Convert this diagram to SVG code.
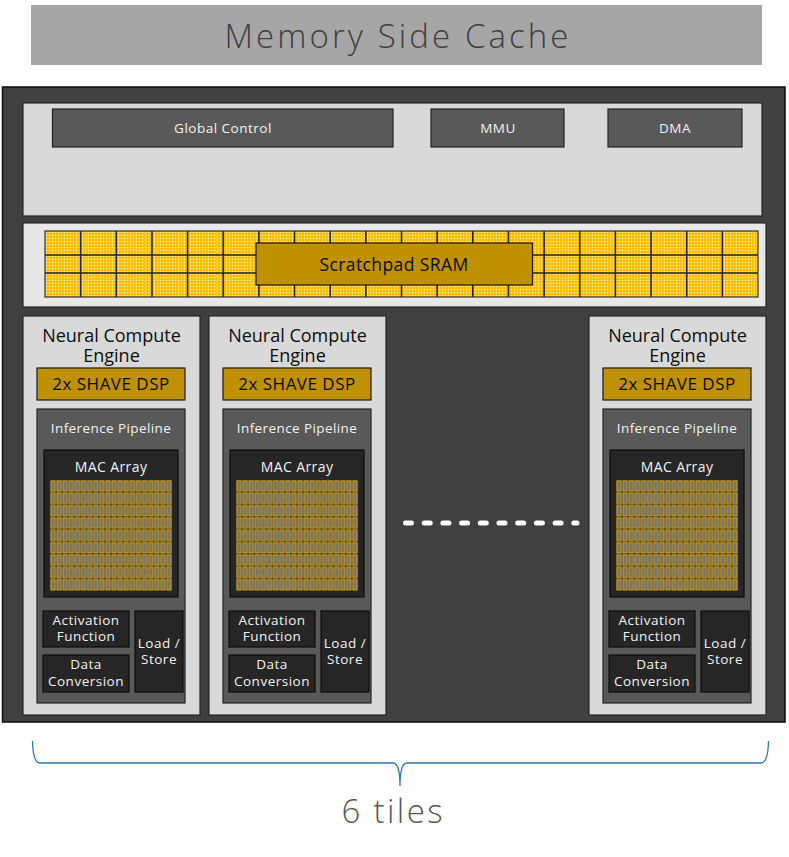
<svg xmlns="http://www.w3.org/2000/svg" width="789" height="857" viewBox="0 0 789 857">
<style>
.t{font-family:"Open Sans","Noto Sans","Liberation Sans",sans-serif;text-anchor:middle}
.big{font-weight:300;font-size:33px}
.sm{font-size:13.5px;letter-spacing:0.5px}
.lt{fill:#F2F2F2}
.dk{fill:#0D0D0D}
.panel{fill:#D9D9D9;stroke:#262626;stroke-width:1.2}
.dbox{fill:#595959;stroke:#262626;stroke-width:1.2}
.blk{fill:#262626;stroke:#0D0D0D;stroke-width:1.2}
.gold{fill:#BF9000;stroke:#1A1A1A;stroke-width:1.2}
</style>
<defs>
<pattern id="dots" width="3" height="3" patternUnits="userSpaceOnUse">
<rect width="3" height="3" fill="#FFC000"/>
<circle cx="1.5" cy="1.5" r="0.7" fill="#FFF2CC"/>
</pattern>
<pattern id="mac" patternUnits="objectBoundingBox" width="0.05" height="0.111111">
<rect x="0.8" y="0.8" width="4.5" height="10.6" fill="#767676" stroke="#D6A40F" stroke-width="1"/>
</pattern>
<g id="tile">
<rect class="panel" x="0" y="0" width="177" height="399"/>
<text class="t dk" x="88.5" y="25.5" font-size="18">Neural Compute</text>
<text class="t dk" x="88.5" y="45.5" font-size="18">Engine</text>
<rect class="gold" x="14" y="52" width="148" height="32"/>
<text class="t dk" x="88" y="74" font-size="17" letter-spacing="0.5">2x SHAVE DSP</text>
<rect class="dbox" x="14" y="93" width="148" height="294"/>
<text class="t lt" x="88" y="116.5" font-size="13.5" letter-spacing="0.4">Inference Pipeline</text>
<rect class="blk" x="21" y="134" width="134" height="147"/>
<text class="t lt" x="88" y="156" font-size="14" letter-spacing="0.4">MAC Array</text>
<rect x="27" y="164" width="122" height="111" fill="#111"/>
<rect x="27" y="164" width="122" height="111" fill="url(#mac)"/>
<rect class="blk" x="20" y="295" width="86" height="36"/>
<text class="t lt sm" x="63" y="309">Activation</text>
<text class="t lt sm" x="63" y="325">Function</text>
<rect class="blk" x="20" y="339" width="86" height="37"/>
<text class="t lt sm" x="63" y="353">Data</text>
<text class="t lt sm" x="63" y="370">Conversion</text>
<rect class="blk" x="112" y="295" width="48" height="81"/>
<text class="t lt sm" x="136" y="331.5">Load /</text>
<text class="t lt sm" x="136" y="348">Store</text>
</g>
</defs>

<g id="memory-side-cache">
<rect x="31" y="5" width="731" height="60" fill="#A6A6A6"/>
<text class="t big" x="396.5" y="48" fill="#404040" textLength="344" lengthAdjust="spacing">Memory Side Cache</text>
</g>

<g id="chip">
<rect x="2.5" y="87" width="782.5" height="635" fill="#404040" stroke="#0D0D0D" stroke-width="1.5"/>
</g>

<g id="top-panel">
<rect class="panel" x="23" y="103" width="739" height="113"/>
</g>
<g id="global-control">
<rect class="dbox" x="52.5" y="109" width="340.5" height="38"/>
<text class="t lt sm" x="223" y="133" letter-spacing="0.9">Global Control</text>
</g>
<g id="mmu">
<rect class="dbox" x="431" y="109" width="133" height="38"/>
<text class="t lt sm" x="498" y="133" letter-spacing="0.9">MMU</text>
</g>
<g id="dma">
<rect class="dbox" x="608" y="109" width="134" height="38"/>
<text class="t lt sm" x="675" y="133" letter-spacing="0.9">DMA</text>
</g>

<g id="sram">
<rect x="23" y="223" width="743" height="84" fill="#E8E8E8" stroke="#262626" stroke-width="1.2"/>
<rect x="45" y="231" width="713" height="66" fill="url(#dots)" stroke="#333" stroke-width="1.2"/>
<path d="M45,255H758M45,273H758M80.65,231V297M116.3,231V297M151.95,231V297M187.6,231V297M223.25,231V297M258.9,231V297M294.55,231V297M330.2,231V297M365.85,231V297M401.5,231V297M437.15,231V297M472.8,231V297M508.45,231V297M544.1,231V297M579.75,231V297M615.4,231V297M651.05,231V297M686.7,231V297M722.35,231V297" stroke="#262626" stroke-width="1.6" fill="none"/>
</g>
<g id="scratchpad-sram">
<rect class="gold" x="256" y="243" width="276.5" height="42"/>
<text class="t dk" x="394" y="271" font-size="17.5" letter-spacing="0.4">Scratchpad SRAM</text>
</g>

<g id="tile1"><use href="#tile" x="23" y="316"/></g>
<g id="tile2"><use href="#tile" x="209" y="316"/></g>
<g id="tile3"><use href="#tile" x="589" y="316"/></g>

<g id="connectors">
<line x1="405.5" y1="523" x2="577" y2="523" stroke="#FFFFFF" stroke-width="5" stroke-linecap="round" stroke-dasharray="6 12.7"/>
<path d="M32.5,741 Q33,763 40,763 L393,763 Q400,763 400,786 Q400,763 407,763 L761,763 Q768,763 768.5,741" fill="none" stroke="#2E75B6" stroke-width="1.3"/>
</g>

<g id="label-tiles">
<text class="t big" x="392" y="823" fill="#595959" font-size="35" textLength="101" lengthAdjust="spacing">6 tiles</text>
</g>
</svg>
